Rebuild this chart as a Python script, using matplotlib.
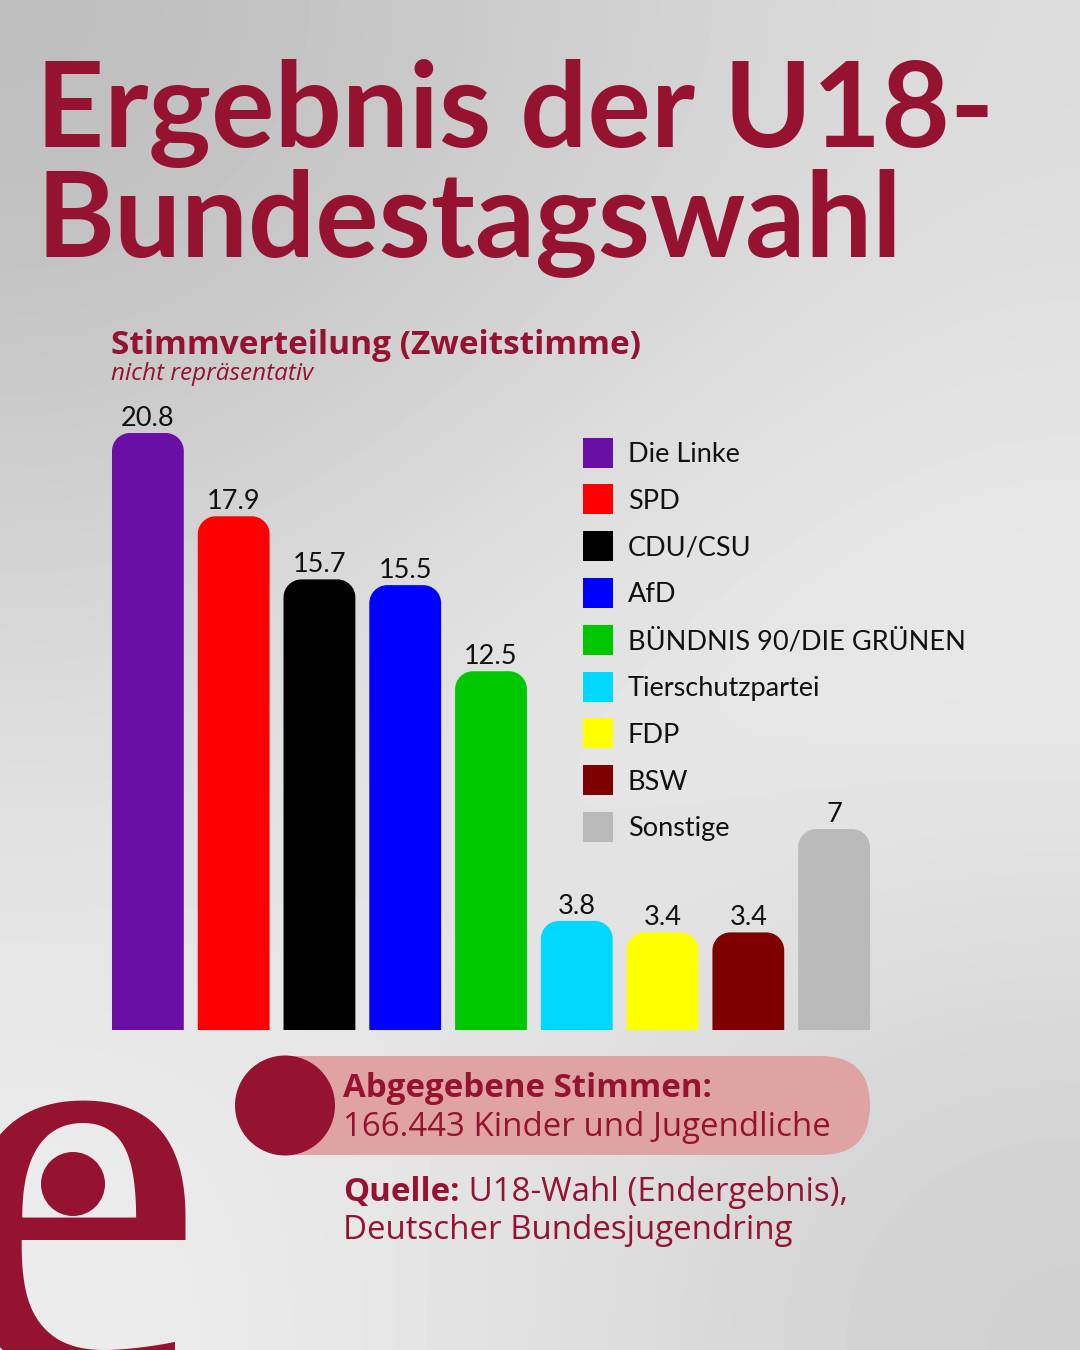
import matplotlib
matplotlib.use("Agg")
import matplotlib.pyplot as plt
import numpy as np
from matplotlib.path import Path
from matplotlib.patches import PathPatch, Rectangle, Circle, FancyBboxPatch

# ---------------- data ----------------
parties = ["Die Linke", "SPD", "CDU/CSU", "AfD", "BÜNDNIS 90/DIE GRÜNEN",
           "Tierschutzpartei", "FDP", "BSW", "Sonstige"]
values = [20.8, 17.9, 15.7, 15.5, 12.5, 3.8, 3.4, 3.4, 7]
value_labels = ["20.8", "17.9", "15.7", "15.5", "12.5", "3.8", "3.4", "3.4", "7"]
colors = ["#6a0fa6", "#ff0000", "#000000", "#0000ff", "#00c800",
          "#00d8ff", "#ffff00", "#7f0000", "#b9b9b9"]

title_lines = ["Ergebnis der U18-", "Bundestagswahl"]
subtitle = "Stimmverteilung (Zweitstimme)"
subnote = "nicht repräsentativ"
votes_head = "Abgegebene Stimmen:"
votes_text = "166.443 Kinder und Jugendliche"
source_head = "Quelle:"
source_text = " U18-Wahl (Endergebnis),"
source_text2 = "Deutscher Bundesjugendring"

CRIMSON = "#951230"
PINK = "#e0a3a4"

W, H = 1080, 1350
fig = plt.figure(figsize=(W / 100, H / 100), dpi=100)

# ---------------- background ----------------
bg = fig.add_axes([0, 0, 1, 1])
bg.set_xlim(0, W)
bg.set_ylim(H, 0)
bg.axis("off")
grid = np.array([[0.74, 0.80, 0.86],
                 [0.86, 0.92, 0.94],
                 [0.93, 0.88, 0.81]])
bg.imshow(grid, cmap="gray", vmin=0, vmax=1, extent=[0, W, H, 0],
          interpolation="bicubic", aspect="auto", zorder=0)

# ---------------- titles ----------------
bg.text(36, 147, title_lines[0], fontfamily="Lato", fontweight="bold",
        fontsize=85.5, color=CRIMSON, va="baseline", ha="left")
bg.text(36, 257, title_lines[1], fontfamily="Lato", fontweight="bold",
        fontsize=85.5, color=CRIMSON, va="baseline", ha="left")

bg.text(111, 354, subtitle, fontfamily="Open Sans", fontweight="bold",
        fontsize=24, color=CRIMSON, va="baseline")
bg.text(111, 380, subnote, fontfamily="Open Sans", fontstyle="italic",
        fontsize=17.5, color=CRIMSON, va="baseline")

# ---------------- bars ----------------
px_per_unit = 28.7
base_px = 1030
top_px = 390
ax = fig.add_axes([105 / W, (H - base_px) / H, (877 - 105) / W,
                   (base_px - top_px) / H])
ax.set_xlim(-0.5, len(values) - 0.5)
ax.set_ylim(0, (base_px - top_px) / px_per_unit)
ax.axis("off")
ax.patch.set_alpha(0)

bw = 72 / 86
rx = 18 / 86
ry = 18 / px_per_unit
k = 0.5523


def rounded_top(x0, w, h):
    x1 = x0 + w
    verts = [(x0, 0), (x0, h - ry),
             (x0, h - ry + k * ry), (x0 + rx - k * rx, h), (x0 + rx, h),
             (x1 - rx, h),
             (x1 - rx + k * rx, h), (x1, h - ry + k * ry), (x1, h - ry),
             (x1, 0), (x0, 0)]
    codes = [Path.MOVETO, Path.LINETO,
             Path.CURVE4, Path.CURVE4, Path.CURVE4,
             Path.LINETO,
             Path.CURVE4, Path.CURVE4, Path.CURVE4,
             Path.LINETO, Path.CLOSEPOLY]
    return Path(verts, codes)


for i, (v, c, lab) in enumerate(zip(values, colors, value_labels)):
    ax.add_patch(PathPatch(rounded_top(i - bw / 2, bw, v), facecolor=c,
                           edgecolor="none", zorder=2))
    ax.text(i, v + 7 / px_per_unit, lab, ha="center", va="baseline",
            fontfamily="Lato", fontweight="normal", fontsize=19.5,
            color="#111111")

# ---------------- legend ----------------
leg_x, leg_y0, leg_dy = 583, 452.5, 46.8
for j, (p, c) in enumerate(zip(parties, colors)):
    cy = leg_y0 + j * leg_dy
    bg.add_patch(Rectangle((leg_x, cy - 15), 30, 30, facecolor=c,
                           edgecolor="none", zorder=3))
    bg.text(628, cy + 9.5, p, fontfamily="Lato", fontsize=19.5,
            color="#111111", va="baseline", ha="left", zorder=3)

# ---------------- pill ----------------
bg.add_patch(FancyBboxPatch((285, 1056), 585, 99,
                            boxstyle="round,pad=0,rounding_size=49.5",
                            facecolor=PINK, edgecolor="none", zorder=2))
bg.add_patch(Rectangle((285, 1056), 60, 99, facecolor=PINK,
                       edgecolor="none", zorder=2))
bg.add_patch(Circle((285, 1105.5), 50, facecolor=CRIMSON, edgecolor="none",
                    zorder=3))
bg.text(343, 1097, votes_head, fontfamily="Open Sans", fontweight="bold",
        fontsize=23.8, color=CRIMSON, va="baseline", zorder=4)
bg.text(343, 1136, votes_text, fontfamily="Open Sans", fontsize=23.8,
        color=CRIMSON, va="baseline", zorder=4)

# ---------------- source ----------------
t1 = bg.text(343, 1201, source_head, fontfamily="Open Sans", fontweight="bold",
             fontsize=23.8, color=CRIMSON, va="baseline")
fig.canvas.draw()
r = fig.canvas.get_renderer()
bb = t1.get_window_extent(renderer=r)
bg.text(343 + bb.width, 1201, source_text, fontfamily="Open Sans",
        fontsize=23.8, color=CRIMSON, va="baseline")
bg.text(343, 1239, source_text2, fontfamily="Open Sans", fontsize=23.8,
        color=CRIMSON, va="baseline")

# ---------------- logo "e" (partly off the canvas, as in the original) ----------------
bg.text(76, 1374, "e", fontfamily="Liberation Serif", fontsize=418,
        color=CRIMSON, ha="center", va="baseline", zorder=2)
bg.add_patch(Circle((73, 1184), 32, facecolor=CRIMSON, edgecolor="none",
                    zorder=3))

fig.savefig("out.png", dpi=100)
